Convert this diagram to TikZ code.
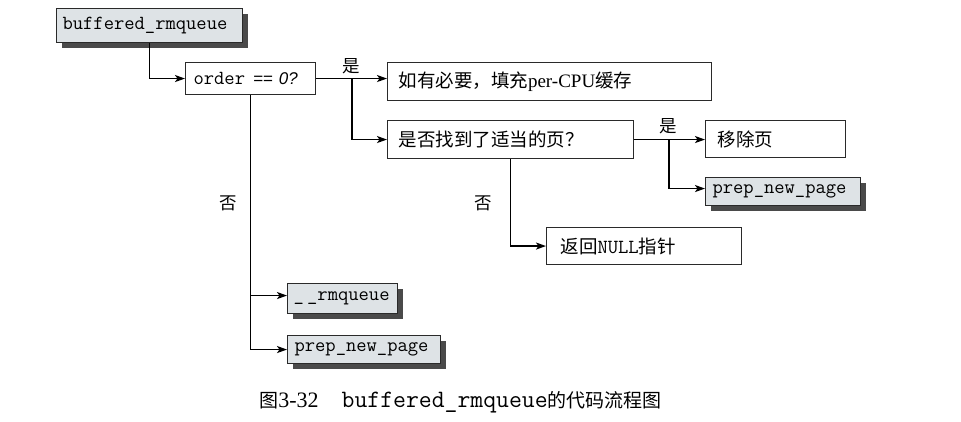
\documentclass[tikz,border=0pt]{standalone}
\usepackage{fontspec}
\setmainfont{Liberation Serif}
\newfontfamily\cjkf{Noto Sans CJK SC}
\newfontfamily\hsans{Liberation Sans}
\usetikzlibrary{arrows.meta,shadows}
\definecolor{boxgray}{HTML}{DEE3E6}
\definecolor{shadowgray}{HTML}{4A4A4A}
\definecolor{edgegray}{HTML}{2A2A2A}
\newcommand\cmono{\ttfamily\fontsize{20}{22}\selectfont}
\newcommand\ccjk{\cjkf\fontsize{18.5}{22}\selectfont}
\newcommand\clat{\rmfamily\fontsize{19}{22}\selectfont}
\tikzset{
  box/.style={draw=edgegray, line width=1.1pt, fill=white, anchor=north west,
    inner ysep=0pt, align=left},
  codebox/.style={box, fill=boxgray,
    drop shadow={shadow xshift=5pt, shadow yshift=-5pt, fill=shadowgray, opacity=1}},
  ln/.style={line width=1.6pt, draw=black},
  arr/.style={ln, -{Stealth[length=10pt,width=7pt,inset=2.5pt]}},
  lbl/.style={font=\cjkf\fontsize{17.5}{20}\selectfont, inner sep=0pt}
}
\begin{document}
\begin{tikzpicture}[x=1pt,y=-1pt]
\useasboundingbox (0,0) rectangle (961,422);
% boxes
\node[codebox, inner xsep=6pt, text width=174pt, minimum height=34pt] (buf) at (56,8) {\cmono buffered\_rmqueue};
\node[box, inner xsep=8pt, text width=114pt, minimum height=32pt] (order) at (185,62) {\cmono order\hspace{8pt}{\hsans\itshape\fontsize{17}{20}\selectfont ==\hspace{6pt}0?}};
\node[box, inner xsep=11pt, text width=302pt, minimum height=38pt] (fill) at (387,62) {{\ccjk 如有必要，填充}{\clat per-CPU}{\ccjk 缓存}};
\node[box, inner xsep=11pt, text width=224pt, minimum height=38pt] (found) at (387,120) {\ccjk 是否找到了适当的页？};
\node[box, inner xsep=12pt, text width=116pt, minimum height=37pt] (remove) at (705,120) {\ccjk 移除页};
\node[codebox, inner xsep=7pt, text width=141pt, minimum height=28pt] (prepb) at (705,177) {\cmono prep\_new\_page};
\node[box, inner xsep=14pt, text width=167pt, minimum height=37pt] (null) at (546,227) {{\ccjk 返回}{\cmono NULL}{\ccjk 指针}};
\node[codebox, inner xsep=6pt, text width=98pt, minimum height=30pt] (rmq) at (287,283) {\cmono \_\,\_rmqueue};
\node[codebox, inner xsep=7pt, text width=139pt, minimum height=28pt] (prepa) at (287,335) {\cmono prep\_new\_page};
% labels
\node[lbl] (yes1) at (351,66) {是};
\node[lbl] (yes2) at (668,126) {是};
\node[lbl] (no1) at (228,203) {否};
\node[lbl] (no2) at (483,203) {否};
% connectors
\coordinate (b1) at ([xshift=36pt]order.east);
\coordinate (b2) at ([xshift=35pt]found.east);
\draw[arr] (buf.south) |- (order.west);
\draw[arr] (order.east) -- (order.east -| fill.west);
\draw[arr] (b1) |- (found.west);
\draw[arr] (found.east) -- (found.east -| remove.west);
\draw[arr] (b2) |- ([yshift=3pt]prepb.west);
\draw[arr] (found.south) |- (null.west);
\draw[arr] (order.south) |- ([yshift=3pt]rmq.west);
\draw[arr] (order.south) |- (prepa.west);
% caption
\node[inner sep=0pt] (cap) at (460.5,402) {{\cjkf\fontsize{19}{22}\selectfont 图}{\rmfamily\fontsize{22}{24}\selectfont 3-32}\hspace{23pt}{\ttfamily\fontsize{25}{26}\selectfont buffered\_rmqueue}{\cjkf\fontsize{19}{22}\selectfont 的代码流程图}};
\end{tikzpicture}
\end{document}
